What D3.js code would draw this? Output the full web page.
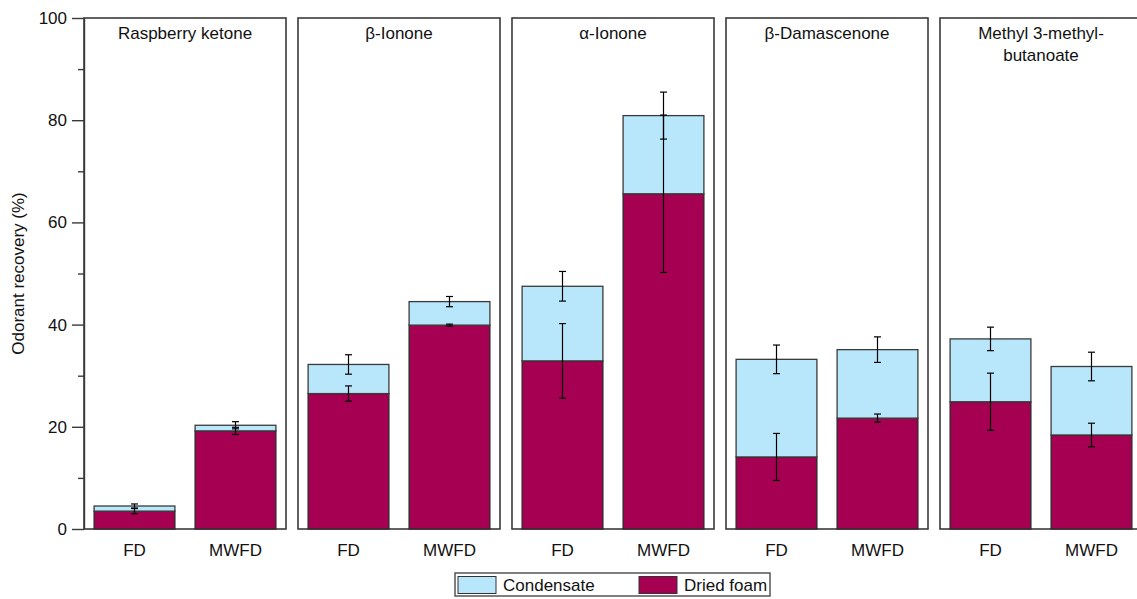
<!DOCTYPE html>
<html>
<head>
<meta charset="utf-8">
<script src="https://cdn.jsdelivr.net/npm/d3@7"></script>
<style>
  body { margin: 0; background: #fff; }
  text { font-family: "Liberation Sans", Arial, sans-serif; fill: #111; }
</style>
</head>
<body>
<script>
const width = 1137;
const height = 599;

// data
const compounds = ["Raspberry ketone", "β-Ionone", "α-Ionone", "β-Damascenone", "Methyl 3-methyl-butanoate"];
const titleLines = [["Raspberry ketone"], ["β-Ionone"], ["α-Ionone"], ["β-Damascenone"], ["Methyl 3-methyl-", "butanoate"]];
const methods = ["FD", "MWFD"];
// per compound: [FD, MWFD]
const driedFoam = [[3.5, 19.2], [26.5, 39.9], [32.9, 65.6], [14.1, 21.7], [24.9, 18.4]];
const condensate = [[1.0, 1.1], [5.7, 4.6], [14.6, 15.3], [19.1, 13.4], [12.3, 13.4]];
const driedErr = [[0.5, 0.7], [1.5, 0.2], [7.3, 15.4], [4.6, 0.8], [5.6, 2.3]];
const condErr = [[0.4, 0.7], [1.9, 1.0], [2.9, 4.6], [2.8, 2.5], [2.3, 2.8]];
const yTicks = [0, 20, 40, 60, 80, 100];
const yMinorTicks = [10, 30, 50, 70, 90];
const seriesNames = ["Condensate", "Dried foam"];

const colors = { cond: "#b8e6fb", dried: "#a50052" };

const svg = d3.select("body").append("svg")
    .attr("width", width)
    .attr("height", height);

const y = d3.scaleLinear().domain([0, 100]).range([529, 18]);

const panelX = d3.scaleBand()
    .domain(compounds)
    .range([84, 1142])
    .paddingInner(12 / 214)
    .paddingOuter(0);

const barX = d3.scaleBand()
    .domain(methods)
    .range([0, panelX.bandwidth()])
    .paddingInner(0.2)
    .paddingOuter(0.1);

// flatten into records
const records = [];
compounds.forEach((c, i) => {
    methods.forEach((m, j) => {
        records.push({
            compound: c, method: m,
            dried: driedFoam[i][j],
            cond: condensate[i][j],
            total: driedFoam[i][j] + condensate[i][j],
            dErr: driedErr[i][j],
            cErr: condErr[i][j]
        });
    });
});

const panels = svg.selectAll(".panel")
    .data(compounds)
    .enter()
    .append("g")
    .attr("class", "panel")
    .attr("transform", d => `translate(${panelX(d)},0)`);

// bars
const bars = svg.append("g");
bars.selectAll(".dried")
    .data(records)
    .enter()
    .append("rect")
    .attr("x", d => panelX(d.compound) + barX(d.method))
    .attr("width", barX.bandwidth())
    .attr("y", d => y(d.dried))
    .attr("height", d => y(0) - y(d.dried))
    .attr("fill", colors.dried)
    .attr("stroke", "#2a2a2a")
    .attr("stroke-width", 1.3);

bars.selectAll(".cond")
    .data(records)
    .enter()
    .append("rect")
    .attr("x", d => panelX(d.compound) + barX(d.method))
    .attr("width", barX.bandwidth())
    .attr("y", d => y(d.total))
    .attr("height", d => y(d.dried) - y(d.total))
    .attr("fill", colors.cond)
    .attr("stroke", "#3a3a3a")
    .attr("stroke-width", 1.3);

// error bars
function errorBar(g, cx, v, e) {
    const cap = 3.5;
    g.append("line").attr("x1", cx).attr("x2", cx).attr("y1", y(v - e)).attr("y2", y(v + e));
    g.append("line").attr("x1", cx - cap).attr("x2", cx + cap).attr("y1", y(v - e)).attr("y2", y(v - e));
    g.append("line").attr("x1", cx - cap).attr("x2", cx + cap).attr("y1", y(v + e)).attr("y2", y(v + e));
}
const errG = svg.append("g").attr("stroke", "#000").attr("stroke-width", 1.2);
records.forEach(d => {
    const cx = panelX(d.compound) + barX(d.method) + barX.bandwidth() / 2;
    errorBar(errG, cx, d.dried, d.dErr);
    errorBar(errG, cx, d.total, d.cErr);
});

// panel frames
panels.append("rect")
    .attr("x", 0)
    .attr("y", y(100))
    .attr("width", panelX.bandwidth())
    .attr("height", y(0) - y(100))
    .attr("fill", "none")
    .attr("stroke", "#3a3a3a")
    .attr("stroke-width", 1.6);

// panel titles
panels.each(function (c, i) {
    const t = d3.select(this).append("text")
        .attr("x", panelX.bandwidth() / 2)
        .attr("y", 39)
        .attr("text-anchor", "middle")
        .attr("font-size", 17);
    titleLines[i].forEach((line, k) => {
        t.append("tspan")
            .attr("x", panelX.bandwidth() / 2)
            .attr("dy", k === 0 ? 0 : 22)
            .text(line);
    });
});

// x labels
panels.each(function () {
    d3.select(this).selectAll(".xlab")
        .data(methods)
        .enter()
        .append("text")
        .attr("x", m => barX(m) + barX.bandwidth() / 2)
        .attr("y", 556)
        .attr("text-anchor", "middle")
        .attr("font-size", 17)
        .text(m => m);
});

// y axis
const yAxis = svg.append("g")
    .attr("transform", "translate(84,0)")
    .call(d3.axisLeft(y).tickValues(yTicks).tickSize(12).tickSizeOuter(0).tickPadding(5));
yAxis.selectAll("text").attr("font-size", 17).attr("font-family", null);
yAxis.selectAll("line, path").attr("stroke", "#3a3a3a").attr("stroke-width", 1.4);

const yMinor = svg.append("g")
    .attr("transform", "translate(84,0)")
    .call(d3.axisLeft(y).tickValues(yMinorTicks).tickSize(6).tickSizeOuter(0).tickFormat(""));
yMinor.select("path").remove();
yMinor.selectAll("line").attr("stroke", "#3a3a3a").attr("stroke-width", 1.4);

svg.append("text")
    .attr("transform", `translate(24,${(y(0) + y(100)) / 2}) rotate(-90)`)
    .attr("text-anchor", "middle")
    .attr("font-size", 17)
    .text("Odorant recovery (%)");

// legend
const legend = svg.append("g").attr("transform", "translate(455,573)");
legend.append("rect")
    .attr("width", 315).attr("height", 23)
    .attr("fill", "#fff").attr("stroke", "#555").attr("stroke-width", 1.5);
const legendItems = [
    { name: seriesNames[0], color: colors.cond, x: 3 },
    { name: seriesNames[1], color: colors.dried, x: 184 }
];
legendItems.forEach(it => {
    legend.append("rect")
        .attr("x", it.x).attr("y", 3.5)
        .attr("width", 38).attr("height", 17)
        .attr("fill", it.color).attr("stroke", "#333").attr("stroke-width", 1);
    legend.append("text")
        .attr("x", it.x + 45).attr("y", 18)
        .attr("font-size", 17)
        .text(it.name);
});
</script>
</body>
</html>
